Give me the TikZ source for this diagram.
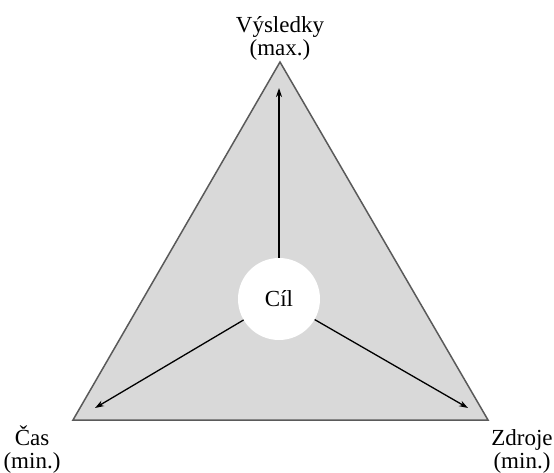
\documentclass[tikz,border=0pt]{standalone}
\usepackage{fontspec}
\setmainfont{Liberation Serif}
\usetikzlibrary{arrows.meta, positioning}

\tikzset{
  label text/.style={font=\fontsize{23}{23}\selectfont, align=center, inner sep=0pt},
  goal arrow/.style={line width=1.3pt, -{Stealth[length=9pt, width=6pt]}}
}

\begin{document}
\begin{tikzpicture}[x=1pt, y=-1pt]
  \useasboundingbox (0,0) rectangle (554,473);
  % Triangle corners
  \coordinate (top) at (280,62);
  \coordinate (left) at (73,420);
  \coordinate (right) at (488,420);
  \draw[fill={rgb,255:red,217;green,217;blue,217}, draw={rgb,255:red,90;green,90;blue,90}, line width=1.5pt]
    (top) -- (right) -- (left) -- cycle;
  % Goal circle
  \node[circle, fill=white, minimum size=82pt, inner sep=0pt, label text] (cil) at (279,299) {Cíl};
  % Arrows to corners
  \coordinate (up end) at (279,88);
  \coordinate (left end) at (95,408);
  \coordinate (right end) at (468,408);
  \draw[goal arrow] (cil) -- (up end);
  \draw[goal arrow] (cil) -- (left end);
  \draw[goal arrow] (cil) -- (right end);
  % Corner labels
  \node[label text, anchor=base] (vysledky) at (280,56) {Výsledky\\(max.)};
  \node[label text, anchor=base] (cas) at (32,468) {Čas\\(min.)};
  \node[label text, anchor=base] (zdroje) at (522,468) {Zdroje\\(min.)};
\end{tikzpicture}
\end{document}
